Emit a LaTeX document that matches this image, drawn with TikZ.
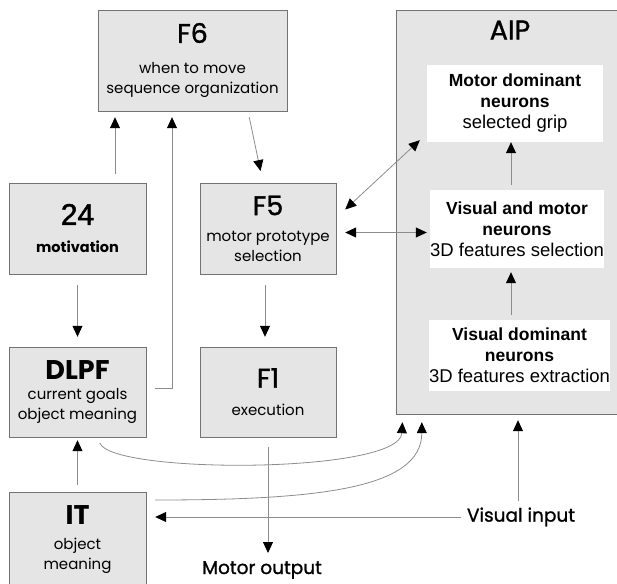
\documentclass[tikz,border=0pt]{standalone}
\usepackage{fontspec}
\setmainfont{Liberation Sans}
\newfontfamily\geo{Poppins}
\newfontfamily\geodemi{Poppins}[FakeBold=1.2]
\newfontfamily\sansdemi{Liberation Sans}[FakeBold=1.5]
\usepackage{tikz}
\usetikzlibrary{arrows.meta,calc}

\newcommand\areatitle{\geodemi\fontsize{27}{28}\selectfont}
\newcommand\areatext{\geo\fontsize{15}{20}\selectfont}
\newcommand\cellhead{\bfseries\fontsize{17.5}{21}\selectfont}
\newcommand\celltext{\fontsize{18.5}{21}\selectfont}

\begin{document}
\begin{tikzpicture}[x=1pt, y=-1pt,
    area/.style={draw=black!55, fill=gray!20, align=center, inner sep=0pt, font=\areatext},
    cell/.style={fill=white, align=center, inner sep=0pt, font=\celltext},
    io/.style={font=\geodemi\fontsize{18.5}{20}\selectfont, inner sep=6pt},
    conn/.style={draw=black!45, line width=0.8pt, -{Triangle[black,length=11pt,width=10pt]}},
    both/.style={conn, {Triangle[black,length=11pt,width=10pt]}-{Triangle[black,length=11pt,width=10pt]}}]
    \useasboundingbox (0,0) rectangle (617,583);

    \node[area, minimum width=189, minimum height=101] (f6) at (192.5,60.5)
        {{\areatitle F6}\\[11pt]when to move\\sequence organization};
    \node[area, minimum width=137, minimum height=91] (m24) at (77.5,228.5)
        {{\sansdemi\fontsize{30}{30}\selectfont 24}\\[8pt]{\bfseries\fontsize{14.5}{20}\selectfont motivation}};
    \node[area, minimum width=136, minimum height=91] (f5) at (268,228.5)
        {{\areatitle F5}\\[6pt]motor prototype\\selection};
    \node[area, minimum width=137, minimum height=90] (dlpf) at (77.5,392)
        {{\geo\bfseries\fontsize{27}{28}\selectfont DLPF}\\current goals\\object meaning};
    \node[area, minimum width=136, minimum height=90] (f1) at (268,392)
        {{\areatitle F1}\\[8pt]execution};
    \node[area, minimum width=137, minimum height=96] (it) at (77.5,540)
        {{\geo\bfseries\fontsize{27}{28}\selectfont IT}\\[5pt]object\\meaning};

    \node[area, minimum width=244, minimum height=404] (aip) at (518,212) {};
    \node (aiptitle) at (510,30) {\areatitle AIP};
    \node[cell, minimum width=176, minimum height=77] (md) at (515,103.5)
        {{\cellhead Motor dominant}\\{\cellhead neurons}\\selected grip};
    \node[cell, minimum width=174, minimum height=78] (vm) at (517,229)
        {{\cellhead Visual and motor}\\{\cellhead neurons}\\3D features selection};
    \node[cell, minimum width=177, minimum height=71] (vd) at (519.5,355.5)
        {{\cellhead Visual dominant}\\{\cellhead neurons}\\3D features extraction};

    \node[io] (mout) at (262,570) {Motor output};
    \node[io] (vin) at (521,517) {Visual input};

    \draw[conn, shorten <=9pt, shorten >=6pt] ([xshift=37.5pt]m24.north) -- ([xshift=37.5pt]m24.north |- f6.south);
    \draw[conn, shorten <=9pt, shorten >=6pt] ([yshift=4pt]dlpf.east) -| ([xshift=-20.5pt]f6.south);
    \draw[conn, shorten <=6pt, shorten >=12pt] ([xshift=55.5pt]f6.south) -- ([xshift=-5pt]f5.north);
    \draw[conn, shorten <=11pt, shorten >=10pt] (m24.south) -- (dlpf.north);
    \draw[conn, shorten <=11pt, shorten >=10pt] ([xshift=-3pt]f5.south) -- ([xshift=-3pt]f1.north);
    \draw[conn, shorten <=7pt, shorten >=3pt] (it.north) -- (dlpf.south);
    \draw[conn, shorten <=10pt, shorten >=2pt] (f1.south) -- (f1.south |- mout.north);
    \draw[conn, shorten >=9pt] (vin.west) -- (vin.west -| it.east);
    \draw[conn, shorten >=6pt] ([xshift=-3pt]vin.north) -- ([xshift=-3pt]vin.north |- aip.south);
    \draw[conn, shorten <=6pt, shorten >=8pt] ([xshift=20.5pt]dlpf.south)
        .. controls +(12,37) and +(-3,60) .. ([xshift=7pt]aip.south west);
    \draw[conn, shorten <=9pt, shorten >=8pt] ([yshift=40pt]it.east)
        .. controls +(170,0) and +(0,75) .. ([xshift=26pt]aip.south west);
    \draw[both] ([xshift=9pt,yshift=19pt]f5.east) -- ([xshift=-7pt,yshift=2pt]md.south west);
    \draw[both, shorten <=9pt, shorten >=3pt] ([yshift=-4pt]f5.east) -- ([yshift=-4pt]f5.east -| vm.west);
    \draw[conn, shorten <=5pt] ([xshift=-6pt]vm.north) -- ([xshift=-6pt]vm.north |- md.south);
    \draw[conn, shorten <=5pt, shorten >=4pt] ([xshift=-8.5pt]vd.north) -- ([xshift=-8.5pt]vd.north |- vm.south);
\end{tikzpicture}
\end{document}
